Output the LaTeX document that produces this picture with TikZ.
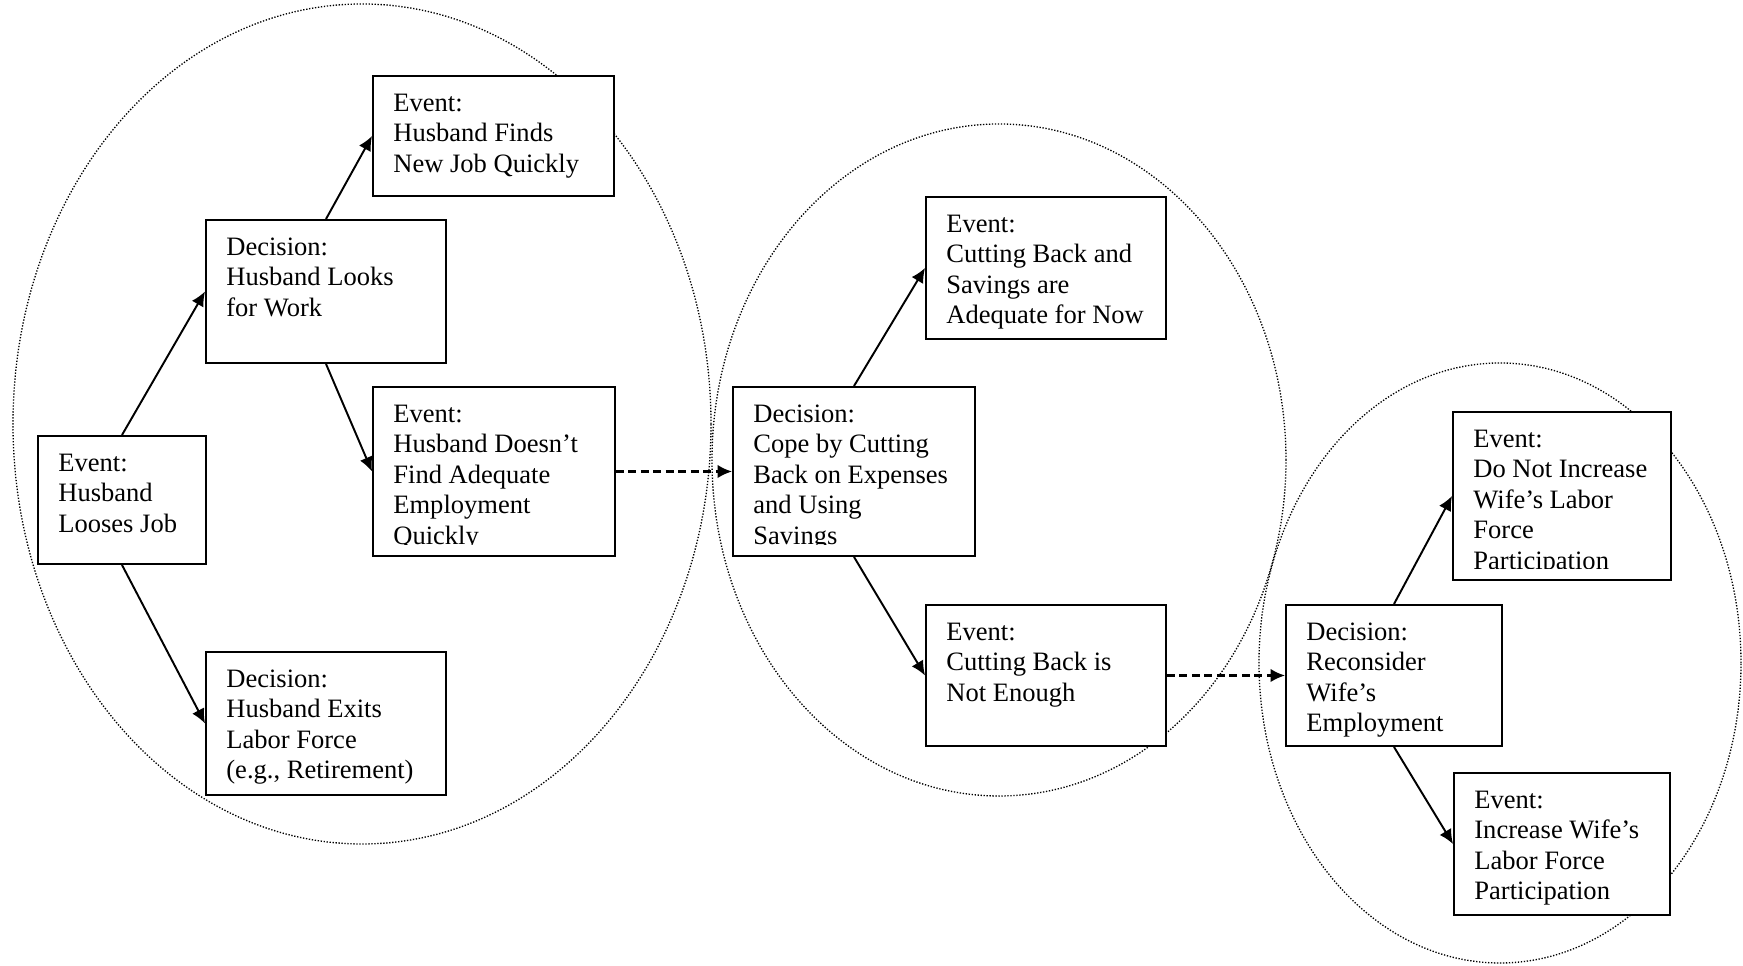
\documentclass[tikz,border=0pt]{standalone}
\usepackage{fontspec}
\setmainfont{Liberation Serif}
\usetikzlibrary{arrows.meta}

\begin{document}
\begin{tikzpicture}[
    box/.style={rectangle, draw, fill=white, line width=1.1pt, inner sep=0pt},
    txt/.style={anchor=north west, align=left, inner sep=0pt, xshift=0.42cm, yshift=-0.37cm,
        font=\fontsize{15.1}{17.35}\selectfont},
    arrow/.style={-{Latex[length=0.29cm, width=0.27cm]}, line width=1.1pt},
    dasharrow/.style={arrow, line width=1.2pt, dash pattern=on 0.16cm off 0.09cm},
    group/.style={line width=0.75pt, dash pattern=on 0.75pt off 0.95pt}
]
    \useasboundingbox (0,0) rectangle (34.86,19.32);

    % Groups
    \draw[group] (7.24,10.84) ellipse [x radius=6.98, y radius=8.4];
    \draw[group] (19.98,10.12) ellipse [x radius=5.74, y radius=6.72];
    \draw[group] (30.0,6.06) ellipse [x radius=4.82, y radius=6.0];

    % First stage: job loss
    \node[box, minimum width=3.36cm, minimum height=2.56cm] (loses) at (2.44,9.32) {};
    \node[box, minimum width=4.8cm, minimum height=2.86cm] (looks) at (6.52,13.49) {};
    \node[box, minimum width=4.82cm, minimum height=2.4cm] (finds) at (9.87,16.6) {};
    \node[box, minimum width=4.84cm, minimum height=3.38cm] (notfound) at (9.88,9.89) {};
    \node[box, minimum width=4.8cm, minimum height=2.86cm] (exits) at (6.52,4.85) {};

    \node[txt] (loses-txt) at (loses.north west) {Event:\\Husband\\Looses Job};
    \node[txt] (looks-txt) at (looks.north west) {Decision:\\Husband Looks\\for Work};
    \node[txt] (finds-txt) at (finds.north west) {Event:\\Husband Finds\\New Job Quickly};
    \begin{scope}
        \clip (notfound.north west) rectangle ([yshift=0.25cm]notfound.south east);
        \node[txt] (notfound-txt) at (notfound.north west) {Event:\\Husband Doesn’t\\Find Adequate\\Employment\\Quickly};
    \end{scope}
    \node[txt] (exits-txt) at (exits.north west) {Decision:\\Husband Exits\\Labor Force\\(e.g., Retirement)};

    % Second stage: cutting back
    \node[box, minimum width=4.84cm, minimum height=3.38cm] (cope) at (17.08,9.89) {};
    \node[box, minimum width=4.8cm, minimum height=2.84cm] (adequate) at (20.92,13.96) {};
    \node[box, minimum width=4.8cm, minimum height=2.82cm] (notenough) at (20.92,5.81) {};

    \begin{scope}
        \clip (cope.north west) rectangle ([yshift=0.25cm]cope.south east);
        \node[txt] (cope-txt) at (cope.north west) {Decision:\\Cope by Cutting\\Back on Expenses\\and Using\\Savings};
    \end{scope}
    \node[txt] (adequate-txt) at (adequate.north west) {Event:\\Cutting Back and\\Savings are\\Adequate for Now};
    \node[txt] (notenough-txt) at (notenough.north west) {Event:\\Cutting Back is\\Not Enough};

    % Third stage: wife's employment
    \node[box, minimum width=4.32cm, minimum height=2.82cm] (reconsider) at (27.88,5.81) {};
    \node[box, minimum width=4.36cm, minimum height=3.36cm] (noincrease) at (31.24,9.4) {};
    \node[box, minimum width=4.32cm, minimum height=2.84cm] (increase) at (31.24,2.44) {};

    \node[txt] (reconsider-txt) at (reconsider.north west) {Decision:\\Reconsider\\Wife’s\\Employment};
    \begin{scope}
        \clip (noincrease.north west) rectangle ([yshift=0.25cm]noincrease.south east);
        \node[txt] (noincrease-txt) at (noincrease.north west) {Event:\\Do Not Increase\\Wife’s Labor\\Force\\Participation};
    \end{scope}
    \node[txt] (increase-txt) at (increase.north west) {Event:\\Increase Wife’s\\Labor Force\\Participation};

    % Arrows
    \draw[arrow] (loses.north) -- (looks.west);
    \draw[arrow] (loses.south) -- (exits.west);
    \draw[arrow] (looks.north) -- (finds.west);
    \draw[arrow] (looks.south) -- (notfound.west);
    \draw[arrow] (cope.north) -- (adequate.west);
    \draw[arrow] (cope.south) -- (notenough.west);
    \draw[arrow] (reconsider.north) -- (noincrease.west);
    \draw[arrow] (reconsider.south) -- (increase.west);

    % Links between stages
    \draw[dasharrow] (notfound.east) -- (cope.west);
    \draw[dasharrow] (notenough.east) -- (reconsider.west);
\end{tikzpicture}
\end{document}
